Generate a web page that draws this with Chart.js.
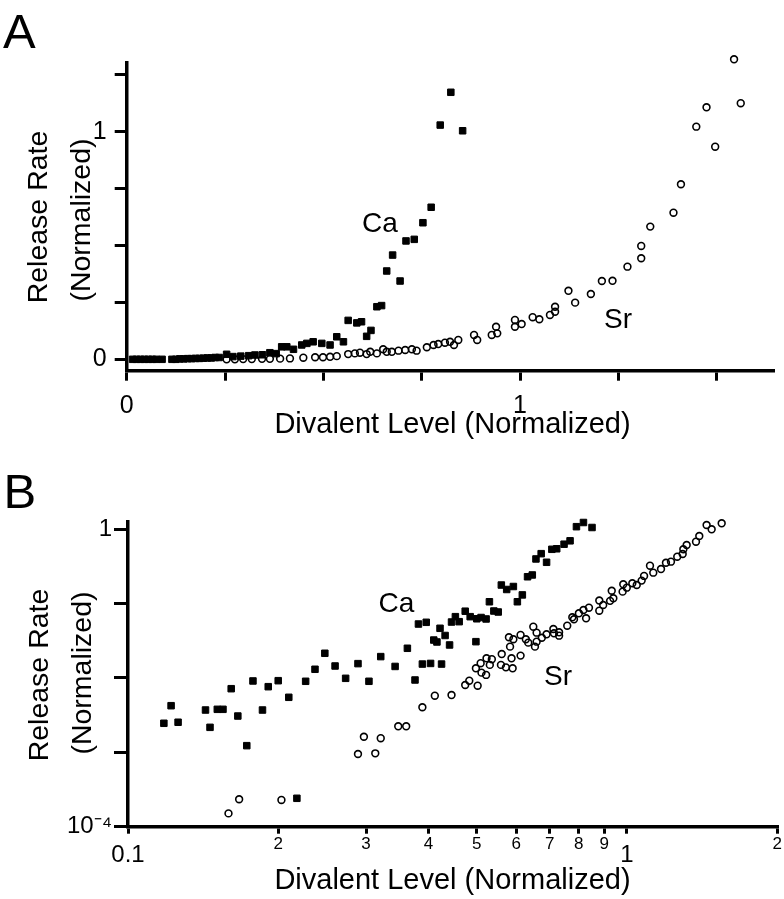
<!DOCTYPE html>
<html>
<head>
<meta charset="utf-8">
<script src="https://cdn.jsdelivr.net/npm/chart.js@4.4.1/dist/chart.umd.min.js"></script>
<style>
  html, body { margin: 0; padding: 0; background: #fff; }
  body { width: 784px; height: 899px; position: relative; overflow: hidden;
         font-family: "Liberation Sans", Arial, Helvetica, sans-serif; color: #000; }
  canvas { position: absolute; left: 0; }
  #chartA { top: 0; }
  #chartB { top: 450px; }
  .txt { position: absolute; white-space: nowrap; line-height: 1; font-size: 28px; }
  .letter { font-size: 49px; }
  .ytitle { font-size: 28.5px; transform: translate(-50%, -50%) rotate(-90deg); }
  .xtitle { font-size: 29px; transform: translateX(-50%); }
</style>
</head>
<body>
<canvas id="chartA" width="784" height="450"></canvas>
<canvas id="chartB" width="784" height="449"></canvas>

<div class="txt letter" style="left:3px; top:6.9px">A</div>
<div class="txt ytitle" style="left:36.5px; top:217px">Release Rate</div>
<div class="txt ytitle" style="left:80px; top:220px">(Normalized)</div>
<div class="txt xtitle" style="left:452.5px; top:409px">Divalent Level (Normalized)</div>
<div class="txt" style="left:362px; top:209.3px">Ca</div>
<div class="txt" style="left:604px; top:304.5px">Sr</div>

<div class="txt letter" style="left:3.4px; top:466.9px">B</div>
<div class="txt ytitle" style="left:37.5px; top:675px">Release Rate</div>
<div class="txt ytitle" style="left:81px; top:673px">(Normalized)</div>
<div class="txt xtitle" style="left:452.5px; top:865px">Divalent Level (Normalized)</div>
<div class="txt" style="left:378.6px; top:589.3px">Ca</div>
<div class="txt" style="left:544px; top:662px">Sr</div>

<script>
// panel A: linear axes
const aXTicks = [0, 0.25, 0.5, 0.75, 1, 1.25, 1.5];
const aXLabels = ['0', '', '', '', '1', '', ''];
const aYTicks = [0, 0.25, 0.5, 0.75, 1, 1.25];
const aYLabels = ['0', '', '', '', '1', ''];

// panel B: log-log axes
const bXTicks = [0.1, 0.2, 0.3, 0.4, 0.5, 0.6, 0.7, 0.8, 0.9, 1, 2];
const bXLabels = ['0.1', '2', '3', '4', '5', '6', '7', '8', '9', '1', '2'];
const bXMajor = [0.1, 1];
const bYTicks = [0.0001, 0.001, 0.01, 0.1, 1];
const bYLabels = ['10⁻⁴', '', '', '', '1'];

// [divalent level, release rate]
const caA = [
  [0.015, 0], [0.025, 0], [0.035, 0], [0.045, 0], [0.055, 0], [0.065, 0], [0.075, 0], [0.09, 0],
  [0.115, 0], [0.125, 0], [0.135, 0.002], [0.145, 0.002], [0.155, 0.003], [0.165, 0.003],
  [0.175, 0.004], [0.185, 0.004], [0.195, 0.005], [0.205, 0.006], [0.215, 0.006], [0.225, 0.008],
  [0.235, 0.008], [0.254, 0.022], [0.27, 0.012], [0.29, 0.014], [0.31, 0.016], [0.326, 0.019],
  [0.345, 0.02], [0.364, 0.029], [0.38, 0.025],
  [0.394, 0.055], [0.407, 0.055], [0.424, 0.044], [0.445, 0.063], [0.458, 0.07], [0.474, 0.077],
  [0.496, 0.07], [0.517, 0.063], [0.534, 0.099], [0.551, 0.077], [0.563, 0.171], [0.585, 0.16],
  [0.597, 0.165], [0.61, 0.101], [0.621, 0.127], [0.636, 0.231], [0.648, 0.236], [0.661, 0.388],
  [0.676, 0.458], [0.695, 0.344], [0.71, 0.52], [0.731, 0.527], [0.753, 0.6], [0.774, 0.668],
  [0.797, 1.029], [0.824, 1.173], [0.854, 1.004]
];

const srA = [
  [0.254, 0], [0.275, 0], [0.296, 0.001], [0.318, 0.001], [0.344, 0.002], [0.364, 0.002],
  [0.39, 0.003], [0.415, 0.004], [0.449, 0.007], [0.479, 0.009], [0.499, 0.009], [0.517, 0.011],
  [0.534, 0.014], [0.563, 0.023], [0.58, 0.026], [0.593, 0.029], [0.61, 0.023], [0.619, 0.033],
  [0.636, 0.026], [0.652, 0.044], [0.661, 0.033], [0.674, 0.033], [0.691, 0.038], [0.708, 0.041],
  [0.725, 0.044], [0.737, 0.038], [0.763, 0.053], [0.78, 0.063], [0.792, 0.067], [0.809, 0.073],
  [0.822, 0.077], [0.832, 0.063], [0.843, 0.085], [0.883, 0.107], [0.891, 0.085], [0.928, 0.107],
  [0.939, 0.143], [0.942, 0.114], [0.987, 0.173], [0.987, 0.143], [1.004, 0.155], [1.032, 0.185],
  [1.049, 0.176], [1.076, 0.195], [1.089, 0.231], [1.089, 0.209], [1.123, 0.301], [1.14, 0.249],
  [1.18, 0.287], [1.208, 0.344], [1.235, 0.345], [1.273, 0.407], [1.308, 0.444], [1.308, 0.498],
  [1.331, 0.583], [1.39, 0.644], [1.409, 0.769], [1.448, 1.022], [1.474, 1.107], [1.496, 0.934],
  [1.544, 1.318], [1.561, 1.125]
];

const caB = [
  [0.118, 0.00246], [0.122, 0.00424], [0.126, 0.00254], [0.143, 0.00371], [0.146, 0.00217],
  [0.151, 0.00379], [0.155, 0.00379], [0.161, 0.00718], [0.166, 0.00308], [0.173, 0.00123],
  [0.178, 0.00912], [0.186, 0.00371], [0.191, 0.00764], [0.2, 0.0092], [0.21, 0.0055],
  [0.218, 0.000241], [0.227, 0.00903], [0.237, 0.0131], [0.248, 0.0215], [0.26, 0.0145],
  [0.273, 0.0099], [0.289, 0.0156], [0.304, 0.00903], [0.321, 0.0194], [0.343, 0.0143],
  [0.363, 0.0251], [0.376, 0.0094], [0.389, 0.0154], [0.404, 0.0157], [0.425, 0.0154],
  [0.382, 0.0532], [0.396, 0.0561], [0.41, 0.0324], [0.416, 0.0305], [0.422, 0.0466],
  [0.432, 0.0373], [0.441, 0.0278], [0.445, 0.0566], [0.453, 0.0668], [0.461, 0.0572],
  [0.474, 0.0791], [0.485, 0.0668], [0.5, 0.0626], [0.498, 0.0308], [0.51, 0.0651],
  [0.522, 0.0622], [0.53, 0.106], [0.541, 0.0796], [0.552, 0.0772], [0.56, 0.178],
  [0.574, 0.155], [0.592, 0.17], [0.603, 0.106], [0.617, 0.131], [0.632, 0.23],
  [0.646, 0.243], [0.657, 0.399], [0.673, 0.47], [0.69, 0.36], [0.707, 0.538],
  [0.723, 0.547], [0.748, 0.63], [0.769, 0.7], [0.792, 1.084], [0.818, 1.234], [0.851, 1.057]
];

const srB = [
  [0.159, 0.000151], [0.167, 0.000234], [0.203, 0.000229], [0.289, 0.00095], [0.297, 0.00162],
  [0.313, 0.00097], [0.321, 0.00155], [0.348, 0.00224], [0.361, 0.00224], [0.389, 0.00404],
  [0.412, 0.00578], [0.445, 0.0059], [0.474, 0.00805], [0.483, 0.0092], [0.502, 0.00788],
  [0.498, 0.0135], [0.509, 0.0158], [0.511, 0.0118], [0.522, 0.011], [0.523, 0.0184],
  [0.531, 0.015], [0.536, 0.0179], [0.559, 0.015], [0.561, 0.021], [0.572, 0.0139],
  [0.58, 0.0353], [0.583, 0.0264], [0.587, 0.0184], [0.59, 0.0135], [0.592, 0.0332],
  [0.612, 0.02], [0.612, 0.0379], [0.627, 0.0332], [0.634, 0.0299], [0.649, 0.049],
  [0.654, 0.0264], [0.659, 0.0308], [0.659, 0.0407], [0.675, 0.0348], [0.69, 0.0387],
  [0.712, 0.0456], [0.714, 0.0399], [0.731, 0.0371], [0.731, 0.0412], [0.759, 0.0505],
  [0.777, 0.0655], [0.783, 0.0616], [0.801, 0.0741], [0.818, 0.0821], [0.828, 0.0635],
  [0.839, 0.0882], [0.88, 0.0804], [0.88, 0.11], [0.896, 0.0959], [0.925, 0.109],
  [0.932, 0.149], [0.939, 0.118], [0.98, 0.145], [0.983, 0.182], [0.999, 0.164],
  [1.025, 0.188], [1.046, 0.178], [1.07, 0.204], [1.082, 0.236], [1.112, 0.324],
  [1.129, 0.261], [1.17, 0.292], [1.197, 0.355], [1.225, 0.367], [1.261, 0.428],
  [1.293, 0.465], [1.297, 0.538], [1.317, 0.615], [1.375, 0.681], [1.396, 0.813],
  [1.444, 1.142], [1.478, 1.0], [1.548, 1.204]
];

const FONT = "'Liberation Sans', Arial, Helvetica, sans-serif";
Chart.defaults.font.family = FONT;
Chart.defaults.color = '#000';

const toPoints = arr => arr.map(p => ({ x: p[0], y: p[1] }));

const squares = {
  pointStyle: 'rect', pointRadius: 4.6, borderWidth: 1,
  backgroundColor: '#000', borderColor: '#000', showLine: false, clip: false
};
const circles = {
  pointStyle: 'circle', pointRadius: 3.4, borderWidth: 1.6,
  backgroundColor: 'rgba(0,0,0,0)', borderColor: '#000', showLine: false, clip: false
};

// fix axis sizes so the plot box lands where the figure has it
function fixX(h) {
  return s => { s.height = h; s.paddingLeft = 0; s.paddingRight = 0; };
}
function fixY(w) {
  return s => { s.width = w; s.paddingTop = 0; s.paddingBottom = 0; };
}
function setTicks(values) {
  return s => { s.ticks = values.map(v => ({ value: v })); };
}
const axisLine = { display: true, color: '#000', width: 3.5 };
function tickMarks(len) {
  return { display: true, drawOnChartArea: false, drawTicks: true, lineWidth: 3,
           color: '#000', tickLength: len, tickWidth: 3, tickColor: '#000',
           borderWidth: 3.5, borderColor: '#000' };
}

const common = {
  responsive: false,
  animation: false,
  events: [],
  plugins: { legend: { display: false }, tooltip: { enabled: false } }
};

new Chart(document.getElementById('chartA'), {
  type: 'scatter',
  data: {
    datasets: [
      Object.assign({ label: 'Ca', data: toPoints(caA) }, squares),
      Object.assign({ label: 'Sr', data: toPoints(srA) }, circles)
    ]
  },
  options: Object.assign({}, common, {
    layout: { padding: { left: 0, top: 62.7, right: 11, bottom: 24.3 } },
    scales: {
      x: {
        type: 'linear', min: 0, max: 1.643,
        afterBuildTicks: setTicks(aXTicks),
        afterFit: fixX(55),
        border: axisLine,
        grid: tickMarks(10),
        ticks: {
          callback: (v, i) => aXLabels[i],
          autoSkip: false, maxRotation: 0, padding: 12.8,
          font: { size: 25, lineHeight: 1 }
        }
      },
      y: {
        type: 'linear', min: -0.05, max: 1.303,
        afterBuildTicks: setTicks(aYTicks),
        afterFit: fixY(126.7),
        border: axisLine,
        grid: tickMarks(12),
        ticks: {
          callback: (v, i) => aYLabels[i],
          autoSkip: false, padding: 8,
          font: { size: 25, lineHeight: 1 }
        }
      }
    }
  })
});

new Chart(document.getElementById('chartB'), {
  type: 'scatter',
  data: {
    datasets: [
      Object.assign({ label: 'Ca', data: toPoints(caB) }, squares),
      Object.assign({ label: 'Sr', data: toPoints(srB) }, circles)
    ]
  },
  options: Object.assign({}, common, {
    layout: { padding: { left: 0, top: 71.7, right: 6.8, bottom: 22.3 } },
    scales: {
      x: {
        type: 'logarithmic', min: 0.1, max: 2,
        afterBuildTicks: setTicks(bXTicks),
        afterFit: fixX(50),
        border: axisLine,
        grid: tickMarks(7),
        ticks: {
          callback: (v, i) => bXLabels[i],
          autoSkip: false, maxRotation: 0, padding: 2.3,
          font: ctx => {
            const major = ctx.tick && bXMajor.some(m => Math.abs(m - ctx.tick.value) < 1e-9);
            return major ? { size: 24, lineHeight: 1.583 } : { size: 17, lineHeight: 1 };
          }
        }
      },
      y: {
        type: 'logarithmic', min: 0.0001, max: 1.265,
        afterBuildTicks: setTicks(bYTicks),
        afterFit: fixY(128),
        border: axisLine,
        grid: tickMarks(14),
        ticks: {
          callback: (v, i) => bYLabels[i],
          autoSkip: false, padding: 2,
          font: { size: 24, lineHeight: 1 }
        }
      }
    }
  })
});
</script>
</body>
</html>
